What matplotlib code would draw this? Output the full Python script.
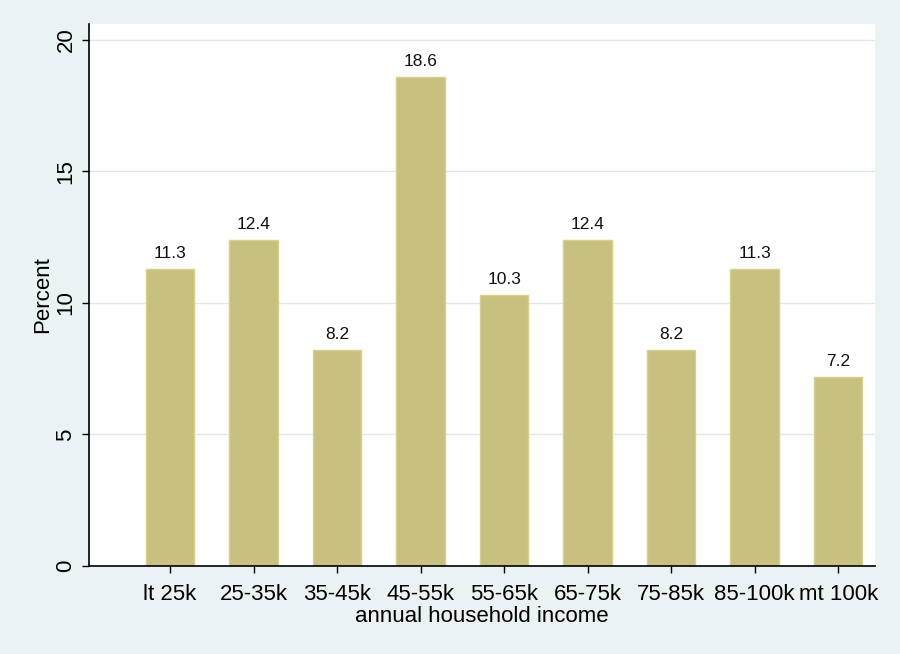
import matplotlib
matplotlib.use("Agg")
import matplotlib.pyplot as plt
import numpy as np

categories = ["lt 25k", "25-35k", "35-45k", "45-55k", "55-65k",
              "65-75k", "75-85k", "85-100k", "mt 100k"]
percent = [11.3, 12.4, 8.2, 18.6, 10.3, 12.4, 8.2, 11.3, 7.2]
y_ticks = [0, 5, 10, 15, 20]

plt.rcParams["font.family"] = ["Liberation Sans", "DejaVu Sans"]

bg = "#EAF2F3"
fig = plt.figure(figsize=(9, 6.54), dpi=100, facecolor=bg)
ax = fig.add_axes([0.0989, 0.1346, 0.8733, 0.8287])
ax.set_facecolor("white")

x = np.arange(len(categories))
ax.bar(x, percent, width=0.58, color="#C8C07E", edgecolor="#D8D08A",
       linewidth=1, zorder=2)
for xi, v in zip(x, percent):
    ax.text(xi, v + 0.3, f"{v:.1f}", ha="center", va="bottom", fontsize=12.5, color="#111111")

ax.set_xlim(-0.97, 8.44)
ax.set_ylim(0, 20.6)
ax.set_yticks(y_ticks)
ax.set_yticklabels([str(t) for t in y_ticks], rotation=90, va="center", fontsize=16)
ax.set_xticks(x)
ax.set_xticklabels(categories, fontsize=16)
ax.tick_params(axis="both", direction="out", length=5, width=1, color="black", pad=4)
ax.tick_params(axis="x", pad=8)
ax.grid(axis="y", color="#DCEAEE", linewidth=1, zorder=0)
ax.set_axisbelow(True)

for side in ["top", "right"]:
    ax.spines[side].set_visible(False)
for side in ["left", "bottom"]:
    ax.spines[side].set_color("black")
    ax.spines[side].set_linewidth(1.2)

ax.set_ylabel("Percent", fontsize=16, labelpad=2)
ax.set_xlabel("annual household income", fontsize=16, labelpad=1)

fig.savefig("out.png", dpi=100, facecolor=bg)
